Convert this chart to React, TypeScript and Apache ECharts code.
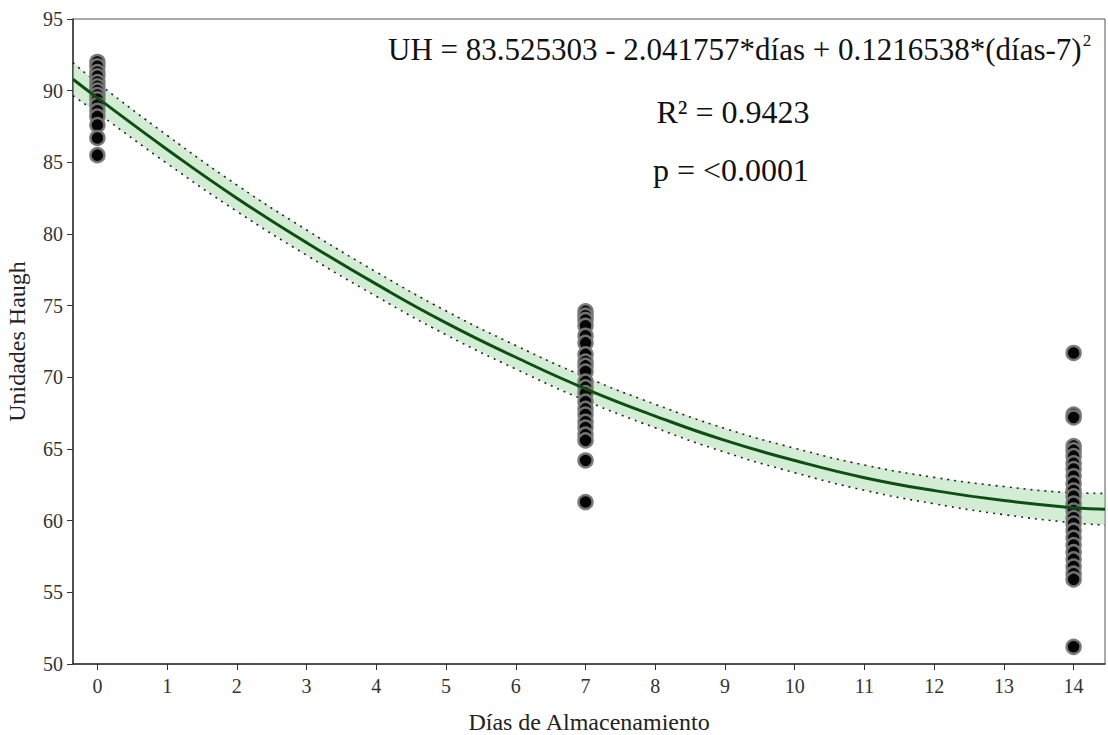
import React, { useEffect, useRef } from "react";
import * as echarts from "echarts";

const xTicks = [0, 1, 2, 3, 4, 5, 6, 7, 8, 9, 10, 11, 12, 13, 14];
const yTicks = [50, 55, 60, 65, 70, 75, 80, 85, 90, 95];

const day0Values = [92.0, 91.7, 91.3, 91.0, 90.6, 90.3, 90.0, 89.7, 89.4, 89.0, 88.6, 88.2, 87.6, 86.7, 85.5];
const day7Values = [74.6, 74.3, 74.0, 73.6, 72.9, 72.4, 71.6, 71.1, 70.8, 70.4, 69.7, 69.3, 68.9, 68.3, 67.8, 67.4, 66.9, 66.5, 66.0, 65.6, 64.2, 61.3];
const day14Values = [71.7, 67.4, 67.2, 65.2, 64.9, 64.5, 64.0, 63.6, 63.1, 62.6, 62.1, 61.7, 61.2, 60.7, 60.2, 59.8, 59.3, 58.8, 58.3, 57.8, 57.3, 56.8, 56.3, 55.9, 51.2];

const curveX = [-0.35, 0, 1, 2, 3, 4, 5, 6, 7, 8, 9, 10, 11, 12, 13, 14, 14.45];
const curveY = [90.8, 89.5, 85.9, 82.5, 79.4, 76.5, 73.8, 71.4, 69.2, 67.3, 65.6, 64.2, 63.0, 62.1, 61.4, 60.9, 60.8];
const bandUpper = [91.95, 90.55, 86.88, 83.42, 80.28, 77.35, 74.63, 72.22, 70.02, 68.12, 66.43, 65.05, 63.88, 63.02, 62.38, 61.95, 61.9];
const bandLower = [89.65, 88.45, 84.92, 81.58, 78.52, 75.65, 72.97, 70.58, 68.38, 66.48, 64.77, 63.35, 62.12, 61.18, 60.42, 59.85, 59.7];

const equationText = "UH = 83.525303 - 2.041757*días + 0.1216538*(días-7)";
const r2Text = "R² = 0.9423";
const pText = "p = <0.0001";
const xName = "Días de Almacenamiento";
const yName = "Unidades Haugh";

const FONT = "Liberation Serif";

export default function App() {
  const ref = useRef<HTMLDivElement>(null);
  useEffect(() => {
    if (!ref.current) return;
    const chart = echarts.init(ref.current, undefined, { renderer: "svg" });
    const scatterData = [
      ...day0Values.map((v) => [0, v]),
      ...day7Values.map((v) => [7, v]),
      ...day14Values.map((v) => [14, v]),
    ];
    const bandData = curveX.map((x, i) => [x, bandLower[i], bandUpper[i]]);
    chart.setOption({
      animation: false,
      backgroundColor: "#fff",
      grid: {
        left: 73,
        right: 3,
        top: 19,
        bottom: 71,
        containLabel: false,
        outerBoundsMode: "none",
        show: true,
        borderColor: "#555",
        borderWidth: 1,
      },
      xAxis: {
        type: "value",
        min: -0.35,
        max: 14.45,
        name: xName,
        nameLocation: "middle",
        nameGap: 46,
        nameTextStyle: { fontFamily: FONT, fontSize: 24, color: "#222" },
        axisLine: { show: true, onZero: false, lineStyle: { color: "#333", width: 1.5 } },
        axisTick: { show: true, customValues: xTicks, length: 6, lineStyle: { color: "#333" } },
        axisLabel: {
          customValues: xTicks,
          fontFamily: FONT,
          fontSize: 20,
          color: "#333",
          margin: 12,
        },
        splitLine: { show: false },
      },
      yAxis: {
        type: "value",
        min: 50,
        max: 95,
        interval: 5,
        name: yName,
        nameLocation: "middle",
        nameGap: 44,
        nameTextStyle: { fontFamily: FONT, fontSize: 24, color: "#222" },
        axisLine: { show: true, onZero: false, lineStyle: { color: "#333", width: 1.5 } },
        axisTick: { show: true, length: 6, lineStyle: { color: "#333" } },
        axisLabel: {
          fontFamily: FONT,
          fontSize: 20,
          color: "#333",
          margin: 10,
          formatter: (v: number) => (yTicks.includes(v) ? String(v) : ""),
        },
        splitLine: { show: false },
      },
      series: [
        {
          type: "custom",
          name: "bandFill",
          data: bandData,
          z: 1,
          silent: true,
          clip: true,
          renderItem: (params: any, api: any) => {
            if (params.dataIndex !== 0) return null;
            const pts: number[][] = [];
            for (let i = 0; i < bandData.length; i++) pts.push(api.coord([bandData[i][0], bandData[i][2]]));
            for (let i = bandData.length - 1; i >= 0; i--) pts.push(api.coord([bandData[i][0], bandData[i][1]]));
            return {
              type: "polygon",
              shape: { points: pts },
              style: { fill: "rgba(150, 212, 155, 0.42)", stroke: "none" },
            };
          },
          encode: { x: 0, y: [1, 2] },
        },
        {
          type: "line",
          name: "lower",
          data: curveX.map((x, i) => [x, bandLower[i]]),
          smooth: true,
          symbol: "none",
          z: 2,
          lineStyle: { color: "#222", width: 1.6, type: [2, 5] },
        },
        {
          type: "line",
          name: "upper",
          data: curveX.map((x, i) => [x, bandUpper[i]]),
          smooth: true,
          symbol: "none",
          z: 2,
          lineStyle: { color: "#222", width: 1.6, type: [2, 5] },
        },
        {
          type: "scatter",
          name: "obs",
          data: scatterData,
          symbolSize: 14,
          z: 3,
          itemStyle: {
            color: "#050505",
            borderColor: "rgba(120,120,120,0.95)",
            borderWidth: 2.5,
            opacity: 1,
          },
        },
        {
          type: "line",
          name: "fit",
          data: curveX.map((x, i) => [x, curveY[i]]),
          smooth: true,
          symbol: "none",
          z: 4,
          lineStyle: { color: "#0d4f12", width: 3 },
        },
      ],
      graphic: [
        {
          type: "text",
          left: 388,
          top: 32,
          style: {
            text: "{m|" + equationText + "}{s|2}",
            rich: {
              m: { fontFamily: FONT, fontSize: 31, fill: "#111" },
              s: { fontFamily: FONT, fontSize: 17, fill: "#111", padding: [0, 0, 17, 1] },
            },
          },
        },
        {
          type: "text",
          x: 733,
          y: 112,
          style: {
            text: r2Text,
            fontFamily: FONT,
            fontSize: 32,
            fill: "#111",
            align: "center",
            verticalAlign: "middle",
          },
        },
        {
          type: "text",
          x: 731,
          y: 170,
          style: {
            text: pText,
            fontFamily: FONT,
            fontSize: 32,
            fill: "#111",
            align: "center",
            verticalAlign: "middle",
          },
        },
      ],
    });
    return () => chart.dispose();
  }, []);
  return <div ref={ref} style={{ width: 1108, height: 735, position: "absolute", left: 0, top: 0 }} />;
}
